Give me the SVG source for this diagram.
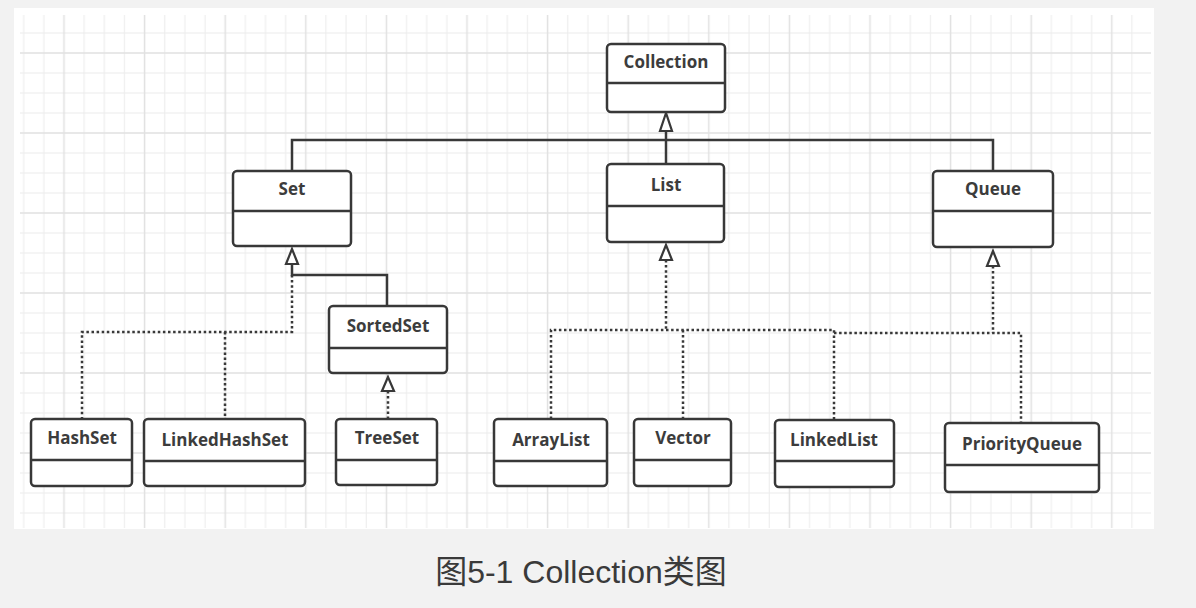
<svg xmlns="http://www.w3.org/2000/svg" width="1196" height="608" viewBox="0 0 1196 608">
<defs>
<pattern id="grid" patternUnits="userSpaceOnUse" x="13.7" y="3" width="80.6" height="80">
<path d="M10 0V80M30.15 0V80M70.45 0V80M0 10H80.6M0 30H80.6M0 70H80.6" stroke="#ececec" stroke-width="1" fill="none"/>
<path d="M50.3 0V80M0 50H80.6" stroke="#e1e1e1" stroke-width="1.5" fill="none"/>
</pattern>
<style>
.box{fill:#fff;stroke:#383838;stroke-width:2.5}
.div{stroke:#383838;stroke-width:2.5;fill:none}
.lbl{font-family:"Open Sans","DejaVu Sans",sans-serif;font-weight:700;font-size:17px;fill:#3c3c3c;text-anchor:middle}
.solid{fill:none;stroke:#383838;stroke-width:2.5}
.dot{fill:none;stroke:#383838;stroke-width:2.5;stroke-dasharray:2.5 2.6}
.tri{fill:#fff;stroke:#383838;stroke-width:2.2;stroke-linejoin:miter}
.cap{font-family:"Liberation Sans","Noto Sans CJK SC",sans-serif;font-size:32px;fill:#3a3a3a;text-anchor:middle}
</style>
</defs>
<rect width="1196" height="608" fill="#f2f2f2"/>
<rect x="14" y="8" width="1140" height="521" fill="#fff"/>
<rect x="20" y="15" width="1131" height="513" fill="url(#grid)"/>

<g id="connectors">
<path class="solid" d="M666 131V164"/>
<path class="solid" d="M292 171V140H993V171"/>
<path class="solid" d="M292 264V275H387V306"/>
<path class="dot" d="M292 275V332H82V419"/>
<path class="dot" d="M225 332V419"/>
<path class="dot" d="M388 391V419"/>
<path class="dot" d="M666 260V330"/>
<path class="dot" d="M551 419V330H834V419"/>
<path class="dot" d="M683 330V419"/>
<path class="dot" d="M834 333H1021V423"/>
<path class="dot" d="M993 266V333"/>
<path class="tri" d="M666 113L660 131H672Z"/>
<path class="tri" d="M292 249L286 264H298Z"/>
<path class="tri" d="M388 377L382 391H394Z"/>
<path class="tri" d="M666 245L660 260H672Z"/>
<path class="tri" d="M993 251L987 266H999Z"/>
</g>

<g id="Collection">
<rect class="box" x="607" y="44" width="118" height="68" rx="4"/>
<path class="div" d="M607 83H725"/>
<text class="lbl" x="666" y="68">Collection</text>
</g>
<g id="Set">
<rect class="box" x="233" y="171" width="118" height="75" rx="4"/>
<path class="div" d="M233 211H351"/>
<text class="lbl" x="292" y="195">Set</text>
</g>
<g id="List">
<rect class="box" x="607" y="164" width="117" height="78" rx="4"/>
<path class="div" d="M607 206H724"/>
<text class="lbl" x="666" y="191">List</text>
</g>
<g id="Queue">
<rect class="box" x="933" y="171" width="120" height="76" rx="4"/>
<path class="div" d="M933 211H1053"/>
<text class="lbl" x="993" y="195">Queue</text>
</g>
<g id="SortedSet">
<rect class="box" x="329" y="306" width="118" height="67" rx="4"/>
<path class="div" d="M329 348H447"/>
<text class="lbl" x="388" y="332">SortedSet</text>
</g>
<g id="HashSet">
<rect class="box" x="31" y="419" width="101" height="67" rx="4"/>
<path class="div" d="M31 460H132"/>
<text class="lbl" x="82" y="444">HashSet</text>
</g>
<g id="LinkedHashSet">
<rect class="box" x="144" y="419" width="161" height="67" rx="4"/>
<path class="div" d="M144 461H305"/>
<text class="lbl" x="225" y="446">LinkedHashSet</text>
</g>
<g id="TreeSet">
<rect class="box" x="336" y="419" width="101" height="66" rx="4"/>
<path class="div" d="M336 460H437"/>
<text class="lbl" x="387" y="444">TreeSet</text>
</g>
<g id="ArrayList">
<rect class="box" x="494" y="419" width="113" height="67" rx="4"/>
<path class="div" d="M494 461H607"/>
<text class="lbl" x="551" y="446">ArrayList</text>
</g>
<g id="Vector">
<rect class="box" x="634" y="419" width="97" height="67" rx="4"/>
<path class="div" d="M634 460H731"/>
<text class="lbl" x="683" y="444">Vector</text>
</g>
<g id="LinkedList">
<rect class="box" x="775" y="420" width="119" height="67" rx="4"/>
<path class="div" d="M775 461H894"/>
<text class="lbl" x="834" y="446">LinkedList</text>
</g>
<g id="PriorityQueue">
<rect class="box" x="945" y="423" width="154" height="69" rx="4"/>
<path class="div" d="M945 465H1099"/>
<text class="lbl" x="1022" y="450">PriorityQueue</text>
</g>

<text class="cap" x="581" y="583">图5-1 Collection类图</text>
</svg>
